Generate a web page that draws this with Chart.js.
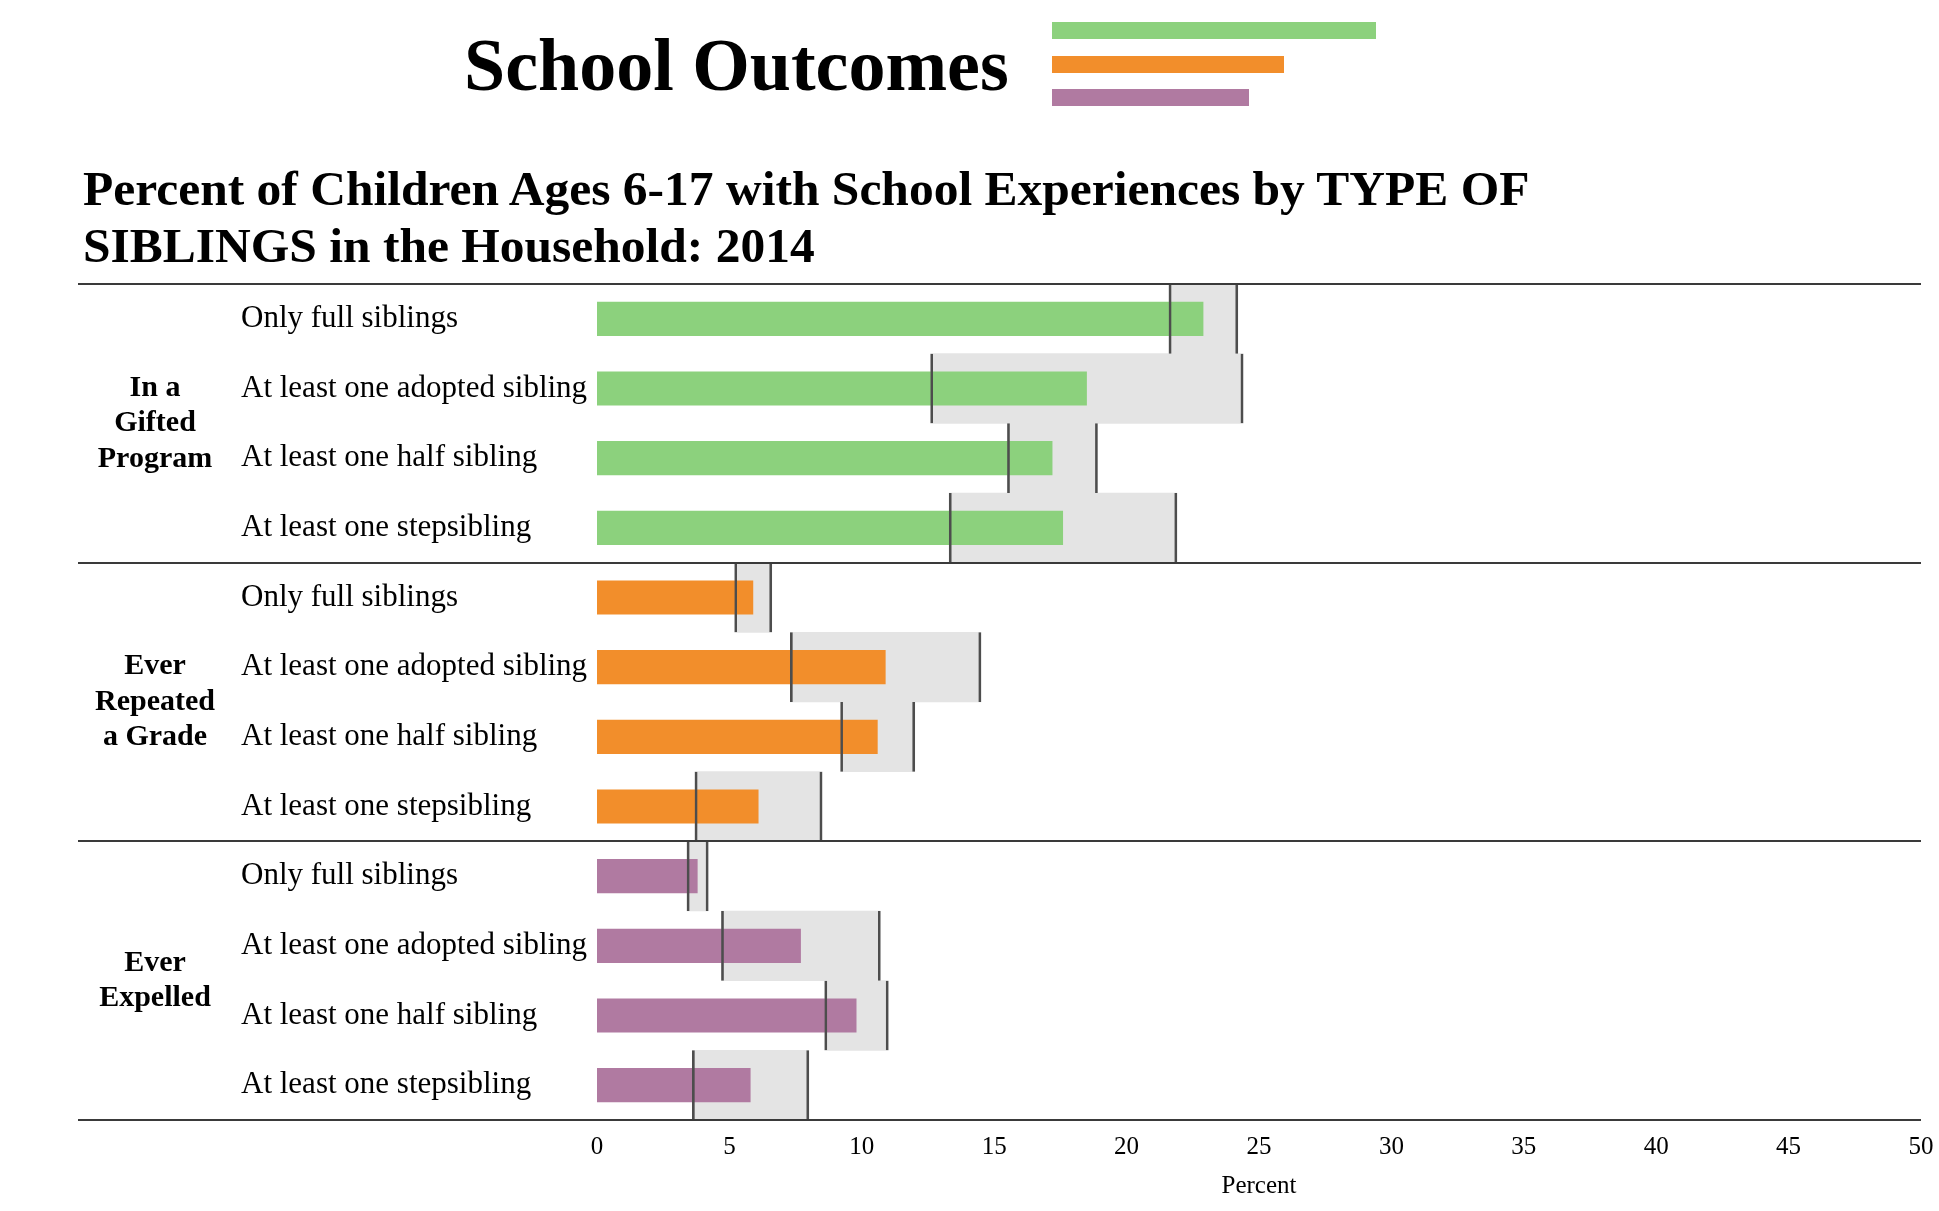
<!DOCTYPE html>
<html>
<head>
<meta charset="utf-8">
<title>School Outcomes</title>
<script src="https://cdn.jsdelivr.net/npm/chart.js@4.4.1/dist/chart.umd.min.js"></script>
<style>
  html, body { margin: 0; padding: 0; background: #fff; }
  #page { position: relative; width: 1939px; height: 1211px; overflow: hidden; font-family: "Liberation Serif", "Times New Roman", serif; color: #000; }
  #chartBox { position: absolute; left: 0; top: 0; width: 1939px; height: 1211px; }
  .heading { position: absolute; left: 464px; top: 28px; font-size: 74px; font-weight: bold; line-height: 1; white-space: nowrap; }
  .logoBar { position: absolute; left: 1052px; height: 17px; }
  .subtitle { position: absolute; left: 83px; top: 160px; font-size: 49.5px; font-weight: bold; line-height: 57px; white-space: nowrap; }
</style>
</head>
<body>
<div id="page">
  <div id="chartBox"><canvas id="outcomesChart"></canvas></div>
  <div class="heading">School Outcomes</div>
  <div class="logoBar" style="top:22px;width:324px;background:#8CD17D;"></div>
  <div class="logoBar" style="top:56px;width:232px;background:#F28E2B;"></div>
  <div class="logoBar" style="top:89px;width:197px;background:#B07AA1;"></div>
  <div class="subtitle">Percent of Children Ages 6-17 with School Experiences by TYPE OF<br>SIBLINGS in the Household: 2014</div>
</div>
<script>
// row and group labels
const rowLabels = ['Only full siblings', 'At least one adopted sibling', 'At least one half sibling', 'At least one stepsibling'];
const groupNames = [['In a', 'Gifted', 'Program'], ['Ever', 'Repeated', 'a Grade'], ['Ever', 'Expelled']];

// percent and confidence bounds
const giftedPct  = [22.9, 18.5, 17.2, 17.6];
const giftedLow  = [21.6, 12.6, 15.5, 13.3];
const giftedHigh = [24.2, 24.4, 18.9, 21.9];

const repeatedPct  = [5.9, 10.9, 10.6, 6.1];
const repeatedLow  = [5.2, 7.3, 9.2, 3.7];
const repeatedHigh = [6.6, 14.5, 12.0, 8.5];

const expelledPct  = [3.8, 7.7, 9.8, 5.8];
const expelledLow  = [3.4, 4.7, 8.6, 3.6];
const expelledHigh = [4.2, 10.7, 11.0, 8.0];

// x axis ticks
const xMin = 0;
const xMax = 50;
const xStep = 5;

const groupColors = ['#8CD17D', '#F28E2B', '#B07AA1'];

document.addEventListener('DOMContentLoaded', function() {
    Chart.defaults.font.family = '"Liberation Serif", "Times New Roman", serif';
    Chart.defaults.color = '#000';

    const labels = [...rowLabels, ...rowLabels, ...rowLabels];
    const pct = [...giftedPct, ...repeatedPct, ...expelledPct];
    const lows = [...giftedLow, ...repeatedLow, ...expelledLow];
    const highs = [...giftedHigh, ...repeatedHigh, ...expelledHigh];
    const ranges = lows.map((lo, i) => [lo, highs[i]]);
    const barColors = labels.map((_, i) => groupColors[Math.floor(i / rowLabels.length)]);

    // separator lines and the bold group names on the far left
    const groupsPlugin = {
        id: 'groups',
        afterDatasetsDraw(chart) {
            const ctx = chart.ctx;
            const y = chart.scales.y;
            const right = chart.chartArea.right;
            const n = rowLabels.length;

            ctx.save();
            ctx.strokeStyle = '#3a3a3a';
            ctx.lineWidth = 2;
            for (let g = 0; g <= groupNames.length; g++) {
                const py = Math.round(y.getPixelForValue(g * n - 0.5));
                ctx.beginPath();
                ctx.moveTo(78, py);
                ctx.lineTo(right, py);
                ctx.stroke();
            }

            ctx.font = 'bold 30px "Liberation Serif", "Times New Roman", serif';
            ctx.fillStyle = '#000';
            ctx.textAlign = 'center';
            ctx.textBaseline = 'middle';
            groupNames.forEach((lines, g) => {
                const top = y.getPixelForValue(g * n - 0.5);
                const bottom = y.getPixelForValue(g * n + n - 0.5);
                const mid = (top + bottom) / 2;
                lines.forEach((line, i) => {
                    ctx.fillText(line, 155, mid + (i - (lines.length - 1) / 2) * 35.5);
                });
            });
            ctx.restore();
        }
    };

    const ctx = document.getElementById('outcomesChart').getContext('2d');
    new Chart(ctx, {
        type: 'bar',
        data: {
            labels: labels,
            datasets: [
                {
                    label: 'Confidence interval',
                    data: ranges,
                    backgroundColor: '#E4E4E4',
                    borderWidth: 0,
                    barPercentage: 1,
                    categoryPercentage: 1,
                    grouped: false,
                    order: 3
                },
                {
                    label: 'Percent',
                    data: pct,
                    backgroundColor: barColors,
                    borderWidth: 0,
                    barPercentage: 0.49,
                    categoryPercentage: 1,
                    grouped: false,
                    order: 2
                },
                {
                    label: 'Bounds',
                    data: ranges,
                    backgroundColor: 'rgba(0,0,0,0)',
                    borderColor: '#4D4D4D',
                    borderWidth: { left: 2, right: 2, top: 0, bottom: 0 },
                    borderSkipped: false,
                    barPercentage: 1,
                    categoryPercentage: 1,
                    grouped: false,
                    order: 1
                }
            ]
        },
        options: {
            indexAxis: 'y',
            responsive: true,
            maintainAspectRatio: false,
            animation: false,
            layout: {
                padding: { top: 284, left: 241, right: 18, bottom: 6 }
            },
            plugins: {
                legend: { display: false },
                title: { display: false }
            },
            scales: {
                x: {
                    min: xMin,
                    max: xMax,
                    ticks: { stepSize: xStep, font: { size: 25 }, color: '#000', padding: 12 },
                    grid: { display: false, drawTicks: false },
                    border: { display: false },
                    title: { display: true, text: 'Percent', font: { size: 25 }, color: '#000', padding: { top: 0, bottom: 4 } },
                    afterFit: function(scale) {
                        scale.height = 85;
                        scale.paddingLeft = 0;
                        scale.paddingRight = 0;
                    }
                },
                y: {
                    ticks: { crossAlign: 'far', font: { size: 31 }, color: '#000', padding: 12, autoSkip: false },
                    grid: { display: false, drawTicks: false },
                    border: { display: false },
                    afterFit: function(scale) { scale.width = 356; }
                }
            }
        },
        plugins: [groupsPlugin]
    });
});
</script>
</body>
</html>
